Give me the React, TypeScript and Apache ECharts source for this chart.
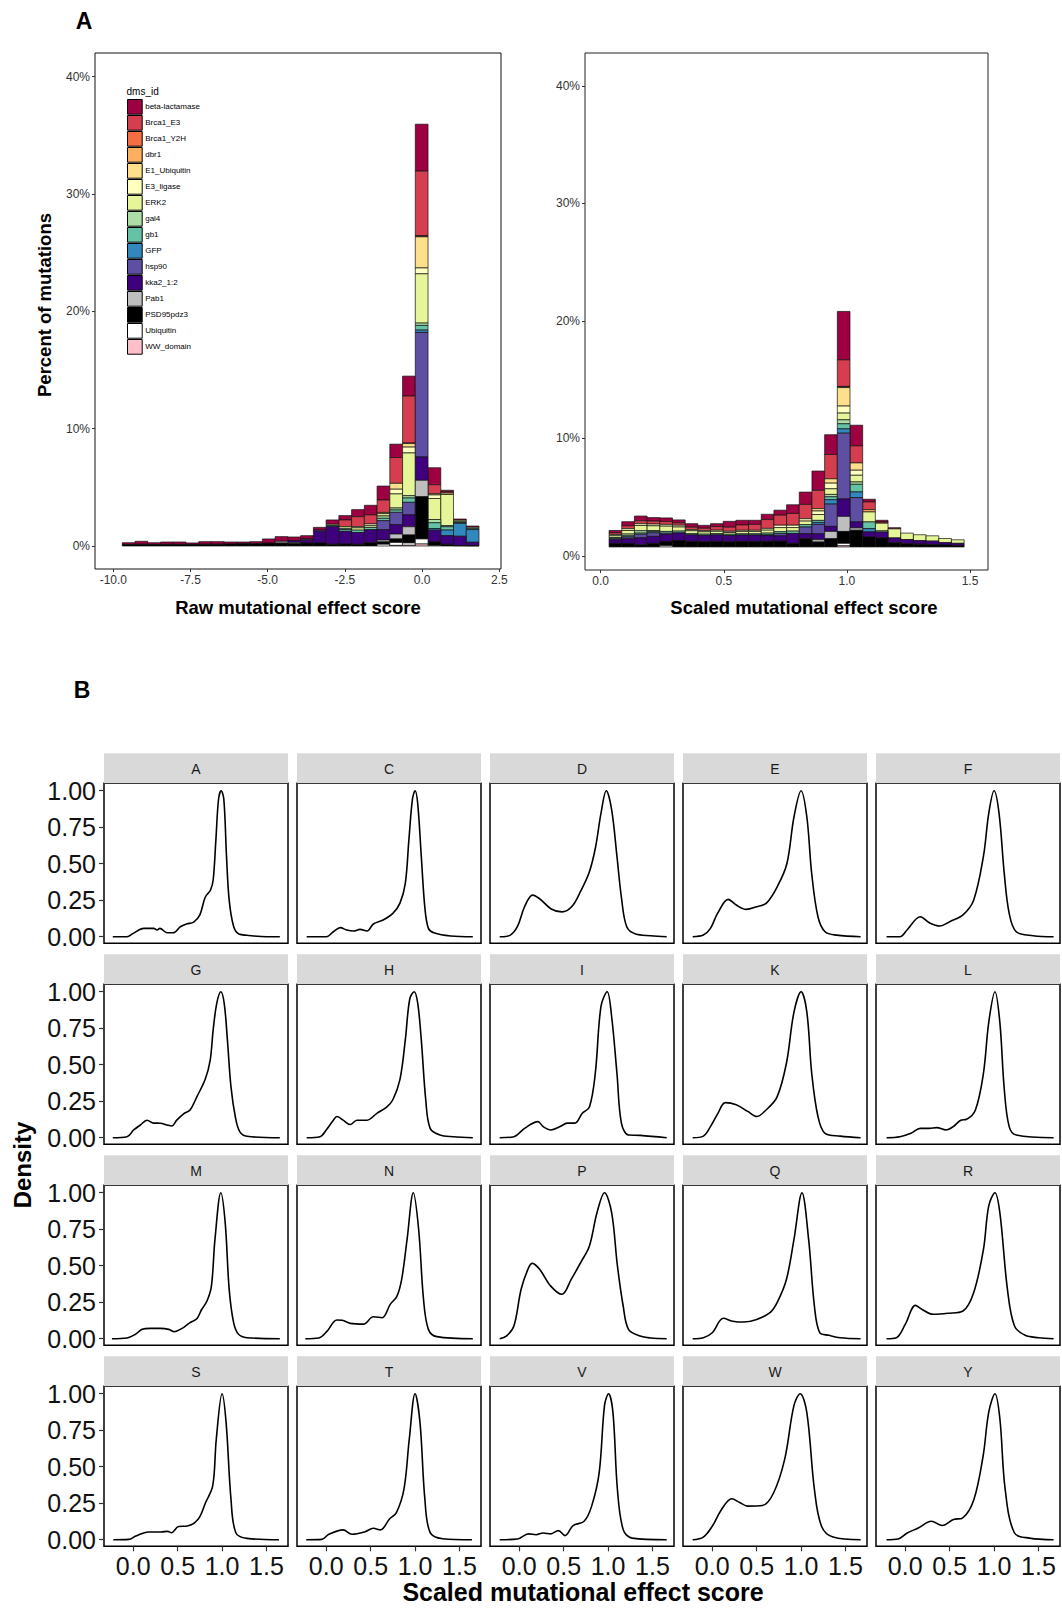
import React, { useEffect, useRef } from 'react';
import * as echarts from 'echarts';

const FONT = '"Liberation Sans", Arial, Helvetica, sans-serif';

// ---------- Panel A: datasets ----------
const datasetNames = ['beta-lactamase', 'Brca1_E3', 'Brca1_Y2H', 'dbr1', 'E1_Ubiquitin', 'E3_ligase', 'ERK2', 'gal4', 'gb1', 'GFP', 'hsp90', 'kka2_1:2', 'Pab1', 'PSD95pdz3', 'Ubiquitin', 'WW_domain'];
const datasetColors = ['#9E0142', '#D53E4F', '#F46D43', '#FDAE61', '#FEE08B', '#FFFFBF', '#E6F598', '#ABDDA4', '#66C2A5', '#3288BD', '#5E4FA2', '#3F007D', '#BEBEBE', '#000000', '#FFFFFF', '#FFC0CB'];

// Raw score histogram: 28 bins, percent of mutations per dataset
const rawBinStart = -9.71;
const rawBinWidth = 0.4126;
const rawBeta = [0.15, 0.25, 0.15, 0.2, 0.2, 0.13, 0.22, 0.22, 0.17, 0.14, 0.17, 0.35, 0.4, 0.3, 0.28, 0.23, 0.37, 0.37, 0.6, 0.82, 1.19, 1.14, 1.7, 4.0, 1.45, 0.12, 0.1, 0.1];
const rawBrca1E3 = [0, 0, 0, 0, 0, 0, 0, 0, 0, 0, 0, 0, 0, 0, 0, 0, 0, 0.57, 0.85, 0.77, 1.06, 2.2, 4.0, 5.5, 0.77, 0.12, 0, 0];
const rawBrca1Y2H = [0, 0, 0, 0, 0, 0, 0, 0, 0, 0, 0, 0, 0, 0, 0, 0, 0, 0, 0, 0, 0, 0, 0.05, 0.05, 0, 0, 0, 0];
const rawDbr1 = [0, 0, 0, 0, 0, 0, 0, 0, 0, 0, 0, 0, 0, 0, 0, 0, 0, 0, 0, 0, 0.1, 0, 0, 0.05, 0, 0, 0, 0];
const rawE1 = [0, 0, 0, 0, 0, 0, 0, 0, 0, 0, 0, 0, 0, 0, 0, 0, 0, 0, 0, 0, 0, 0.5, 0.3, 2.65, 0.1, 0.12, 0, 0];
const rawE3 = [0, 0, 0, 0, 0, 0, 0, 0, 0, 0, 0, 0, 0, 0, 0, 0, 0, 0, 0.1, 0.15, 0, 0.4, 0.5, 0.5, 0.3, 0, 0, 0];
const rawERK2 = [0, 0, 0, 0, 0, 0, 0, 0, 0, 0, 0, 0, 0, 0, 0, 0, 0.1, 0.15, 0.2, 0.15, 0.2, 1.2, 3.64, 4.2, 1.79, 2.65, 0.1, 0];
const rawGal4 = [0, 0, 0, 0, 0, 0, 0, 0, 0, 0, 0, 0, 0, 0, 0, 0, 0, 0.1, 0, 0, 0.2, 0.17, 0.2, 0.2, 0.28, 0.1, 0.1, 0.1];
const rawGb1 = [0, 0, 0, 0, 0, 0, 0, 0, 0, 0, 0, 0, 0, 0, 0, 0, 0.1, 0.15, 0.2, 0.19, 0.2, 0.2, 0.37, 0.4, 0.49, 0.28, 0.07, 0.1];
const rawGFP = [0, 0, 0, 0, 0, 0, 0, 0, 0, 0, 0, 0, 0, 0, 0, 0, 0, 0, 0, 0, 0, 0, 0, 0.2, 0.14, 0.48, 1.1, 1.08];
const rawHsp90 = [0, 0, 0, 0, 0, 0, 0, 0, 0, 0, 0, 0, 0, 0, 0.1, 0.1, 0, 0, 0, 0, 0.77, 1.05, 1.06, 10.6, 0, 0, 0, 0];
const rawKka2 = [0, 0, 0, 0, 0, 0, 0, 0, 0, 0, 0, 0, 0, 0.17, 0.25, 1.0, 1.5, 1.08, 1.0, 1.11, 0.88, 0.8, 1.02, 2.0, 1.0, 0.73, 0.8, 0.3];
const rawPab1 = [0, 0, 0, 0, 0, 0, 0, 0, 0, 0, 0, 0, 0.15, 0.1, 0, 0, 0, 0, 0, 0, 0.16, 0.42, 0.7, 1.4, 0, 0, 0, 0];
const rawPSD95 = [0.13, 0.15, 0.13, 0.14, 0.14, 0.13, 0.15, 0.15, 0.17, 0.2, 0.2, 0.25, 0.25, 0.2, 0.25, 0.26, 0.15, 0.17, 0.15, 0.28, 0.2, 0.3, 0.68, 3.6, 0.3, 0.15, 0.03, 0.02];
const rawUbiquitin = [0, 0, 0, 0, 0, 0, 0, 0, 0, 0, 0, 0, 0, 0, 0, 0, 0, 0, 0, 0, 0.15, 0.25, 0.2, 0.43, 0, 0, 0, 0];
const rawWW = [0, 0, 0, 0, 0, 0, 0, 0, 0, 0, 0, 0, 0, 0, 0, 0, 0, 0, 0, 0, 0, 0.05, 0.06, 0.17, 0.05, 0, 0, 0];

// Scaled score histogram: 28 bins, stacks start at a small baseline
const scaledBinStart = 0.034;
const scaledBinWidth = 0.0515;
const scaledBaseline = 0.77;
const scBeta = [0.2, 0.35, 0.4, 0.3, 0.3, 0.25, 0.3, 0.25, 0.25, 0.5, 0.4, 0.35, 0.45, 0.43, 0.74, 1.05, 1.64, 1.68, 4.12, 1.76, 0.23, 0.15, 0.1, 0, 0, 0, 0, 0];
const scBrca1E3 = [0.15, 0.25, 0.25, 0.25, 0.25, 0.2, 0.2, 0.2, 0.3, 0.35, 0.45, 0.5, 0.75, 0.85, 1.0, 1.22, 1.56, 2.07, 2.26, 1.45, 0.65, 0.1, 0, 0, 0, 0, 0, 0];
const scBrca1Y2H = [0, 0, 0, 0, 0, 0, 0, 0, 0, 0, 0, 0, 0, 0, 0, 0, 0, 0, 0.05, 0, 0, 0, 0, 0, 0, 0, 0, 0];
const scDbr1 = [0, 0, 0, 0, 0, 0, 0, 0, 0, 0, 0, 0, 0, 0, 0, 0, 0, 0, 0.05, 0, 0.2, 0, 0, 0, 0, 0, 0, 0];
const scE1 = [0, 0, 0, 0, 0, 0, 0, 0, 0, 0, 0, 0, 0, 0, 0, 0, 0.2, 0.37, 1.57, 0.62, 0, 0, 0, 0, 0, 0, 0, 0];
const scE3 = [0.1, 0.15, 0.15, 0.15, 0.15, 0.15, 0.1, 0.1, 0.1, 0.1, 0.1, 0.1, 0.15, 0.2, 0.2, 0.2, 0.3, 0.48, 0.6, 0.43, 0, 0, 0, 0, 0, 0, 0, 0];
const scERK2 = [0.15, 0.3, 0.45, 0.4, 0.45, 0.35, 0.25, 0.2, 0.2, 0.15, 0.2, 0.2, 0.25, 0.35, 0.3, 0.3, 0.5, 0.48, 0.57, 0.57, 0.85, 0.65, 0.77, 0.55, 0.5, 0.45, 0.35, 0.3];
const scGal4 = [0, 0.15, 0.2, 0.1, 0, 0, 0, 0, 0, 0, 0, 0, 0, 0, 0, 0, 0, 0.2, 0.34, 0.2, 0, 0.1, 0, 0, 0, 0, 0, 0];
const scGb1 = [0.1, 0.1, 0.1, 0.1, 0.15, 0.15, 0.1, 0.1, 0.1, 0.1, 0.1, 0.1, 0.15, 0.15, 0.2, 0.2, 0.17, 0.25, 0.43, 0.65, 0.57, 0, 0, 0, 0, 0, 0, 0];
const scGFP = [0, 0, 0, 0, 0, 0, 0, 0, 0, 0, 0, 0, 0.05, 0, 0, 0, 0.17, 0.37, 0.37, 0.48, 0.28, 0, 0, 0, 0, 0, 0, 0];
const scHsp90 = [0.1, 0.15, 0.3, 0.3, 0.1, 0, 0, 0, 0, 0, 0, 0, 0, 0.2, 0, 0.57, 0.8, 1.9, 5.6, 2.07, 0, 0, 0, 0, 0, 0, 0, 0];
const scKka2 = [0.3, 0.4, 0.6, 0.6, 0.6, 0.65, 0.55, 0.55, 0.55, 0.55, 0.55, 0.55, 0.5, 0.45, 0.85, 0.43, 0.5, 0.43, 1.48, 0.51, 0.43, 0.5, 0.4, 0.35, 0.3, 0.3, 0.2, 0.18];
const scPab1 = [0, 0, 0, 0, 0, 0, 0, 0, 0, 0, 0, 0, 0, 0, 0, 0, 0.2, 0.62, 1.28, 0.2, 0, 0, 0, 0, 0, 0, 0, 0];
const scPSD95 = [0.3, 0.3, 0.18, 0.3, 0.37, 0.55, 0.48, 0.44, 0.48, 0.43, 0.47, 0.47, 0.48, 0.5, 0.3, 0.7, 0.42, 0.7, 1.02, 1.42, 0.85, 0.77, 0.37, 0.28, 0.24, 0.2, 0.17, 0.13];
const scUbiquitin = [0, 0, 0, 0, 0.1, 0, 0, 0, 0, 0, 0, 0, 0, 0, 0, 0, 0, 0, 0.2, 0, 0, 0, 0, 0, 0, 0, 0, 0];
const scWW = [0, 0, 0, 0, 0, 0, 0, 0, 0, 0, 0, 0, 0, 0, 0, 0, 0, 0, 0.1, 0, 0, 0, 0, 0, 0, 0, 0, 0];

const rawData = [rawBeta, rawBrca1E3, rawBrca1Y2H, rawDbr1, rawE1, rawE3, rawERK2, rawGal4, rawGb1, rawGFP, rawHsp90, rawKka2, rawPab1, rawPSD95, rawUbiquitin, rawWW];
const scaledData = [scBeta, scBrca1E3, scBrca1Y2H, scDbr1, scE1, scE3, scERK2, scGal4, scGb1, scGFP, scHsp90, scKka2, scPab1, scPSD95, scUbiquitin, scWW];

const rawTicks = [-10, -7.5, -5, -2.5, 0, 2.5];
const scaledTicks = [0, 0.5, 1.0, 1.5];
const percentTicks = [0, 10, 20, 30, 40];

// ---------- Panel B: density curves per residue ----------
const residues = ['A', 'C', 'D', 'E', 'F', 'G', 'H', 'I', 'K', 'L', 'M', 'N', 'P', 'Q', 'R', 'S', 'T', 'V', 'W', 'Y'];
const densA = [[-0.23, 0], [-0.07, 0], [0.0, 0.023], [0.12, 0.057], [0.23, 0.057], [0.27, 0.046], [0.3, 0.057], [0.38, 0.027], [0.45, 0.027], [0.53, 0.068], [0.6, 0.087], [0.68, 0.1], [0.75, 0.15], [0.81, 0.27], [0.87, 0.32], [0.9, 0.39], [0.93, 0.66], [0.96, 0.94], [0.99, 1.0], [1.02, 0.94], [1.05, 0.55], [1.08, 0.25], [1.13, 0.07], [1.19, 0.018], [1.28, 0.01], [1.5, 0], [1.65, 0]];
const densC = [[-0.22, 0], [0, 0], [0.08, 0.034], [0.16, 0.062], [0.23, 0.046], [0.31, 0.039], [0.38, 0.05], [0.46, 0.039], [0.53, 0.087], [0.64, 0.114], [0.75, 0.16], [0.83, 0.23], [0.89, 0.365], [0.93, 0.66], [0.97, 0.94], [1.0, 1.0], [1.03, 0.91], [1.07, 0.55], [1.11, 0.2], [1.15, 0.057], [1.21, 0.027], [1.4, 0.005], [1.65, 0]];
const densD = [[-0.22, 0], [-0.1, 0.011], [-0.02, 0.07], [0.06, 0.205], [0.15, 0.285], [0.23, 0.26], [0.36, 0.19], [0.48, 0.17], [0.59, 0.205], [0.69, 0.31], [0.79, 0.445], [0.86, 0.616], [0.92, 0.845], [0.98, 1.0], [1.04, 0.87], [1.1, 0.55], [1.15, 0.27], [1.21, 0.068], [1.31, 0.018], [1.48, 0.007], [1.66, 0]];
const densE = [[-0.22, 0], [-0.1, 0.011], [-0.02, 0.057], [0.06, 0.16], [0.18, 0.256], [0.27, 0.217], [0.38, 0.187], [0.5, 0.205], [0.61, 0.23], [0.73, 0.34], [0.84, 0.5], [0.92, 0.82], [1.0, 1.0], [1.065, 0.82], [1.12, 0.43], [1.19, 0.137], [1.27, 0.034], [1.4, 0.011], [1.67, 0]];
const densF = [[-0.21, 0], [-0.06, 0], [0.02, 0.046], [0.17, 0.137], [0.27, 0.096], [0.39, 0.073], [0.5, 0.103], [0.65, 0.15], [0.77, 0.25], [0.88, 0.55], [0.94, 0.845], [1.0, 1.0], [1.056, 0.845], [1.115, 0.43], [1.17, 0.16], [1.25, 0.034], [1.44, 0.007], [1.67, 0]];
const densG = [[-0.23, 0], [-0.07, 0.007], [0.005, 0.053], [0.08, 0.087], [0.155, 0.12], [0.23, 0.1], [0.305, 0.099], [0.38, 0.087], [0.435, 0.08], [0.49, 0.12], [0.567, 0.163], [0.64, 0.19], [0.716, 0.28], [0.81, 0.4], [0.866, 0.53], [0.9, 0.74], [0.94, 0.92], [0.986, 1.0], [1.024, 0.92], [1.06, 0.67], [1.1, 0.35], [1.15, 0.14], [1.2, 0.04], [1.28, 0.01], [1.65, 0]];
const densH = [[-0.22, 0], [-0.07, 0.007], [0.0, 0.053], [0.08, 0.12], [0.12, 0.145], [0.19, 0.12], [0.27, 0.09], [0.345, 0.12], [0.46, 0.12], [0.57, 0.167], [0.68, 0.21], [0.75, 0.26], [0.83, 0.4], [0.89, 0.67], [0.94, 0.95], [0.99, 1.0], [1.03, 0.92], [1.07, 0.67], [1.12, 0.26], [1.17, 0.064], [1.28, 0.018], [1.43, 0.007], [1.65, 0]];
const densI = [[-0.22, 0], [-0.06, 0.007], [0.06, 0.064], [0.21, 0.11], [0.27, 0.076], [0.355, 0.053], [0.46, 0.076], [0.54, 0.1], [0.627, 0.1], [0.71, 0.167], [0.79, 0.21], [0.856, 0.44], [0.92, 0.9], [0.99, 1.0], [1.04, 0.83], [1.1, 0.44], [1.15, 0.1], [1.23, 0.018], [1.36, 0.016], [1.66, 0]];
const densK = [[-0.22, 0], [-0.1, 0.011], [-0.02, 0.076], [0.064, 0.167], [0.147, 0.24], [0.27, 0.225], [0.4, 0.18], [0.5, 0.145], [0.606, 0.19], [0.73, 0.28], [0.835, 0.51], [0.92, 0.86], [1.0, 1.0], [1.065, 0.86], [1.12, 0.44], [1.19, 0.145], [1.27, 0.03], [1.44, 0.011], [1.67, 0]];
const densL = [[-0.21, 0], [-0.06, 0.007], [0.065, 0.03], [0.17, 0.064], [0.27, 0.064], [0.355, 0.069], [0.46, 0.053], [0.54, 0.076], [0.625, 0.12], [0.69, 0.126], [0.79, 0.19], [0.88, 0.44], [0.94, 0.79], [1.01, 1.0], [1.065, 0.79], [1.115, 0.33], [1.17, 0.076], [1.25, 0.018], [1.67, 0]];
const densM = [[-0.24, 0], [-0.07, 0.005], [0.024, 0.03], [0.1, 0.064], [0.19, 0.071], [0.305, 0.071], [0.4, 0.064], [0.46, 0.048], [0.55, 0.071], [0.64, 0.11], [0.716, 0.137], [0.77, 0.2], [0.83, 0.258], [0.88, 0.36], [0.92, 0.68], [0.986, 1.0], [1.035, 0.795], [1.08, 0.338], [1.13, 0.11], [1.185, 0.03], [1.28, 0.007], [1.65, 0]];
const densN = [[-0.235, 0], [-0.085, 0.005], [0.01, 0.052], [0.12, 0.128], [0.18, 0.126], [0.27, 0.105], [0.42, 0.1], [0.53, 0.15], [0.63, 0.144], [0.72, 0.235], [0.795, 0.29], [0.85, 0.41], [0.91, 0.68], [0.98, 1.0], [1.04, 0.75], [1.095, 0.27], [1.15, 0.064], [1.245, 0.014], [1.65, 0]];
const densP = [[-0.22, 0], [-0.145, 0.018], [-0.06, 0.087], [0.022, 0.34], [0.105, 0.486], [0.147, 0.516], [0.23, 0.475], [0.355, 0.36], [0.48, 0.304], [0.585, 0.406], [0.69, 0.52], [0.79, 0.635], [0.875, 0.863], [0.96, 1.0], [1.04, 0.863], [1.105, 0.5], [1.17, 0.224], [1.23, 0.064], [1.36, 0.018], [1.48, 0.005], [1.66, 0]];
const densQ = [[-0.22, 0], [-0.1, 0.007], [0.0, 0.041], [0.125, 0.14], [0.23, 0.12], [0.355, 0.114], [0.5, 0.132], [0.65, 0.178], [0.73, 0.247], [0.835, 0.406], [0.92, 0.68], [1.01, 1.0], [1.085, 0.68], [1.15, 0.224], [1.21, 0.041], [1.315, 0.023], [1.44, 0.007], [1.67, 0]];
const densR = [[-0.21, 0], [-0.1, 0.007], [0.0, 0.098], [0.115, 0.228], [0.19, 0.2], [0.315, 0.167], [0.48, 0.174], [0.65, 0.19], [0.77, 0.315], [0.88, 0.61], [0.94, 0.91], [1.01, 1.0], [1.065, 0.863], [1.15, 0.34], [1.23, 0.087], [1.35, 0.023], [1.5, 0.007], [1.67, 0]];
const densS = [[-0.225, 0], [-0.05, 0.002], [0.03, 0.025], [0.17, 0.053], [0.31, 0.053], [0.39, 0.057], [0.43, 0.048], [0.51, 0.09], [0.61, 0.094], [0.73, 0.14], [0.815, 0.255], [0.895, 0.37], [0.935, 0.69], [1.0, 1.0], [1.045, 0.805], [1.1, 0.28], [1.155, 0.048], [1.28, 0.009], [1.64, 0]];
const densT = [[-0.225, 0], [-0.05, 0.002], [0.03, 0.037], [0.19, 0.067], [0.29, 0.037], [0.43, 0.053], [0.53, 0.078], [0.61, 0.067], [0.71, 0.14], [0.79, 0.186], [0.875, 0.346], [0.935, 0.69], [1.0, 1.0], [1.055, 0.805], [1.11, 0.28], [1.17, 0.048], [1.31, 0.007], [1.64, 0]];
const densV = [[-0.22, 0], [-0.02, 0.005], [0.105, 0.04], [0.19, 0.034], [0.27, 0.046], [0.355, 0.04], [0.44, 0.062], [0.515, 0.028], [0.606, 0.097], [0.73, 0.126], [0.815, 0.23], [0.9, 0.46], [0.96, 0.92], [1.005, 1.0], [1.055, 0.87], [1.105, 0.345], [1.17, 0.069], [1.27, 0.011], [1.66, 0]];
const densW = [[-0.22, 0], [-0.1, 0.018], [0.0, 0.092], [0.105, 0.207], [0.22, 0.28], [0.314, 0.253], [0.397, 0.23], [0.564, 0.234], [0.69, 0.32], [0.815, 0.55], [0.92, 0.92], [0.99, 1.0], [1.065, 0.87], [1.15, 0.345], [1.23, 0.092], [1.36, 0.018], [1.67, 0]];
const densY = [[-0.21, 0], [-0.08, 0.005], [0.023, 0.046], [0.147, 0.08], [0.293, 0.126], [0.418, 0.097], [0.543, 0.138], [0.648, 0.15], [0.773, 0.276], [0.877, 0.575], [0.94, 0.874], [1.01, 1.0], [1.065, 0.83], [1.125, 0.345], [1.23, 0.046], [1.4, 0.011], [1.67, 0]];
const densityCurves = [densA, densC, densD, densE, densF, densG, densH, densI, densK, densL, densM, densN, densP, densQ, densR, densS, densT, densV, densW, densY];
const densityTicks = [0, 0.25, 0.5, 0.75, 1.0];
const facetXTicks = [0, 0.5, 1.0, 1.5];

// ---------- helpers ----------
function buildStacks(arrays: number[][], base: number, start: number, width: number) {
  const n = arrays[0].length;
  const cum = new Array(n).fill(base);
  const out = arrays.map(() => [] as number[][]);
  for (let d = arrays.length - 1; d >= 0; d--) {
    for (let i = 0; i < n; i++) {
      const v = arrays[d][i];
      if (v > 0) {
        out[d].push([start + i * width, start + (i + 1) * width, cum[i], cum[i] + v]);
        cum[i] += v;
      }
    }
  }
  return out;
}

const makeRender = (color: string) => (params: any, api: any) => {
  const a = api.coord([api.value(0), api.value(3)]);
  const b = api.coord([api.value(1), api.value(2)]);
  return {
    type: 'rect',
    shape: { x: a[0], y: a[1], width: b[0] - a[0], height: b[1] - a[1] },
    style: { fill: color, stroke: '#111', lineWidth: 0.7 },
  };
};

function buildOption() {
  const grids: any[] = [];
  const xAxes: any[] = [];
  const yAxes: any[] = [];
  const series: any[] = [];
  const graphics: any[] = [];

  const smallLabel = { fontSize: 12, color: '#333', fontFamily: FONT };
  const tick = { show: true, length: 3, lineStyle: { color: '#333', width: 1 } };
  const noLine = { show: false, onZero: false };

  // Panel A grids
  grids.push({ left: 95, top: 53, width: 406, height: 516, show: true, borderColor: '#111', borderWidth: 1, backgroundColor: 'transparent' });
  grids.push({ left: 585, top: 53, width: 403, height: 517, show: true, borderColor: '#222', borderWidth: 1, backgroundColor: 'transparent' });

  xAxes.push({
    type: 'value', gridIndex: 0, min: -10.593, max: 2.555, position: 'bottom',
    axisLine: noLine, splitLine: { show: false },
    axisTick: { ...tick, customValues: rawTicks },
    axisLabel: { ...smallLabel, margin: 5, customValues: rawTicks, formatter: (v: number) => v.toFixed(1) },
  });
  xAxes.push({
    type: 'value', gridIndex: 1, min: -0.0638, max: 1.573, position: 'bottom',
    axisLine: noLine, splitLine: { show: false },
    axisTick: { ...tick, customValues: scaledTicks },
    axisLabel: { ...smallLabel, margin: 5, customValues: scaledTicks, formatter: (v: number) => v.toFixed(1) },
  });
  yAxes.push({
    type: 'value', gridIndex: 0, min: -1.96, max: 42.02, position: 'left',
    axisLine: noLine, splitLine: { show: false },
    axisTick: { ...tick, customValues: percentTicks },
    axisLabel: { ...smallLabel, margin: 5, customValues: percentTicks, formatter: (v: number) => `${Math.round(v)}%` },
  });
  yAxes.push({
    type: 'value', gridIndex: 1, min: -1.19, max: 42.8, position: 'left',
    axisLine: noLine, splitLine: { show: false },
    axisTick: { ...tick, customValues: percentTicks },
    axisLabel: { ...smallLabel, margin: 5, customValues: percentTicks, formatter: (v: number) => `${Math.round(v)}%` },
  });

  const rawStacks = buildStacks(rawData, 0, rawBinStart, rawBinWidth);
  const scaledStacks = buildStacks(scaledData, scaledBaseline, scaledBinStart, scaledBinWidth);
  datasetNames.forEach((name, d) => {
    const color = datasetColors[d];
    series.push({
      type: 'custom', name, xAxisIndex: 0, yAxisIndex: 0, data: rawStacks[d],
      encode: { x: [0, 1], y: [2, 3] }, renderItem: makeRender(color),
      itemStyle: { color, borderColor: '#000', borderWidth: 1 }, silent: true,
    });
    series.push({
      type: 'custom', name, xAxisIndex: 1, yAxisIndex: 1, data: scaledStacks[d],
      encode: { x: [0, 1], y: [2, 3] }, renderItem: makeRender(color),
      itemStyle: { color, borderColor: '#000', borderWidth: 1 }, silent: true,
    });
  });

  // Panel B facets
  const colLeft = [104, 297, 490, 683, 876];
  const rowStripTop = [753.3, 954.3, 1155.3, 1356.3];
  const facetW = 184;
  const stripH = 30;
  const plotH = 160;
  const bigLabel = { fontSize: 25, color: '#111', fontFamily: FONT };

  residues.forEach((res, k) => {
    const r = Math.floor(k / 5);
    const c = k % 5;
    const gi = 2 + k;
    const left = colLeft[c];
    const top = rowStripTop[r] + stripH;
    grids.push({ left, top, width: facetW, height: plotH, show: true, borderColor: '#000', borderWidth: 1.5, backgroundColor: 'transparent' });
    const bottomRow = r === 3;
    const firstCol = c === 0;
    xAxes.push({
      type: 'value', gridIndex: gi, min: -0.329, max: 1.742, position: 'bottom',
      axisLine: noLine, splitLine: { show: false },
      axisTick: { show: bottomRow, length: 5, customValues: facetXTicks, lineStyle: { color: '#333', width: 1.2 } },
      axisLabel: { ...bigLabel, show: bottomRow, margin: 7, customValues: facetXTicks, formatter: (v: number) => v.toFixed(1) },
    });
    yAxes.push({
      type: 'value', gridIndex: gi, min: -0.0452, max: 1.0507, position: 'left',
      axisLine: noLine, splitLine: { show: false },
      axisTick: { show: firstCol, length: 5, customValues: densityTicks, lineStyle: { color: '#333', width: 1.2 } },
      axisLabel: { ...bigLabel, show: firstCol, margin: 8, customValues: densityTicks, formatter: (v: number) => v.toFixed(2) },
    });
    series.push({
      type: 'line', name: `density-${res}`, xAxisIndex: gi, yAxisIndex: gi,
      data: densityCurves[k], showSymbol: false, smooth: 0.35, silent: true,
      lineStyle: { color: '#000', width: 1.6 },
    });
    graphics.push({
      type: 'group', left, top: rowStripTop[r], silent: true,
      children: [
        { type: 'rect', shape: { x: 0, y: 0, width: facetW, height: stripH }, style: { fill: '#d9d9d9' } },
        {
          type: 'text', x: facetW / 2, y: stripH / 2 + 1,
          style: { text: res, fill: '#1a1a1a', font: `14px ${FONT}`, align: 'center', verticalAlign: 'middle', textAlign: 'center', textVerticalAlign: 'middle' },
        },
      ],
    });
  });

  const txt = (text: string, x: number, y: number, size: number, bold: boolean, rotation = 0, align = 'center') => ({
    type: 'text', x, y, rotation, silent: true,
    style: {
      text, fill: '#000', font: `${bold ? 'bold ' : ''}${size}px ${FONT}`,
      align, verticalAlign: 'middle', textAlign: align, textVerticalAlign: 'middle',
    },
  });

  graphics.push(txt('A', 84, 21, 23, true));
  graphics.push(txt('B', 82, 690, 23, true));
  graphics.push(txt('Percent of mutations', 44, 305, 18.5, true, Math.PI / 2));
  graphics.push(txt('Raw mutational effect score', 298, 607, 18.5, true));
  graphics.push(txt('Scaled mutational effect score', 804, 607, 18.5, true));
  graphics.push(txt('dms_id', 126.5, 91.5, 10, false, 0, 'left'));
  graphics.push(txt('Density', 22.5, 1165, 24, true, Math.PI / 2));
  graphics.push(txt('Scaled mutational effect score', 583, 1592, 25, true));

  return {
    animation: false,
    backgroundColor: '#ffffff',
    textStyle: { fontFamily: FONT },
    grid: grids,
    xAxis: xAxes,
    yAxis: yAxes,
    legend: {
      data: datasetNames,
      orient: 'vertical',
      left: 127,
      top: 99,
      padding: 0,
      itemWidth: 14.7,
      itemHeight: 14.7,
      itemGap: 0.3,
      icon: 'rect',
      selectedMode: false,
      itemStyle: { borderColor: '#000', borderWidth: 1 },
      textStyle: { fontSize: 8, color: '#000', fontFamily: FONT, padding: [0, 0, 0, -2] },
    },
    graphic: graphics,
    series,
  };
}

export default function App() {
  const ref = useRef<HTMLDivElement>(null);
  useEffect(() => {
    if (!ref.current) return;
    const chart = echarts.init(ref.current, null, { renderer: 'svg', width: 1062, height: 1608 });
    chart.setOption(buildOption() as any);
    return () => chart.dispose();
  }, []);
  return (
    <div
      ref={ref}
      style={{ position: 'absolute', left: 0, top: 0, width: 1062, height: 1608, background: '#fff' }}
    />
  );
}
